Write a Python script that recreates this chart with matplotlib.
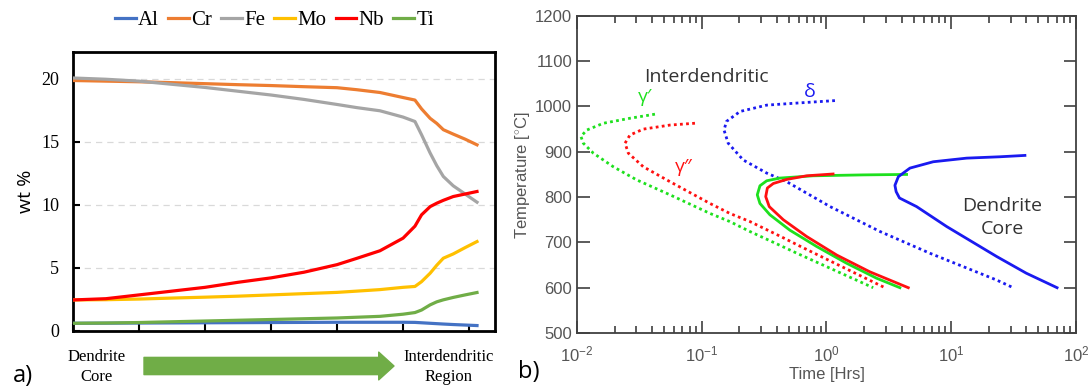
import numpy as np
import matplotlib.pyplot as plt
from matplotlib.ticker import LogLocator, NullFormatter

plt.rcParams["mathtext.fontset"] = "custom"
plt.rcParams["mathtext.rm"] = "Liberation Sans"
plt.rcParams["mathtext.it"] = "Liberation Sans:italic"

# ---- panel a) composition profile, dendrite core -> interdendritic ----
position = [0, 5, 10, 15, 20, 25, 30, 35, 40, 43, 46.5, 50, 51.8, 52.8, 54.1, 55.1, 56.1, 57.6, 59.4, 61.2]
elements = ["Al", "Cr", "Fe", "Mo", "Nb", "Ti"]
al = [0.60, 0.61, 0.62, 0.63, 0.64, 0.65, 0.66, 0.67, 0.68, 0.68, 0.68, 0.68, 0.67, 0.64, 0.60, 0.57, 0.54, 0.50, 0.46, 0.42]
cr = [19.85, 19.8, 19.75, 19.68, 19.6, 19.52, 19.45, 19.36, 19.28, 19.12, 18.9, 18.5, 18.3, 17.6, 16.85, 16.45, 15.95, 15.6, 15.2, 14.75]
fe = [20.05, 19.95, 19.8, 19.55, 19.3, 19.0, 18.7, 18.35, 17.95, 17.7, 17.45, 16.95, 16.6, 15.55, 14.1, 13.1, 12.24, 11.5, 10.85, 10.2]
mo = [2.45, 2.47, 2.52, 2.6, 2.67, 2.75, 2.85, 2.95, 3.05, 3.15, 3.27, 3.45, 3.52, 3.9, 4.57, 5.2, 5.76, 6.1, 6.6, 7.08]
nb = [2.45, 2.55, 2.85, 3.15, 3.45, 3.85, 4.2, 4.65, 5.25, 5.75, 6.35, 7.35, 8.3, 9.2, 9.85, 10.12, 10.35, 10.65, 10.85, 11.05]
ti = [0.60, 0.62, 0.66, 0.72, 0.78, 0.84, 0.90, 0.96, 1.02, 1.08, 1.15, 1.32, 1.45, 1.65, 2.06, 2.3, 2.46, 2.65, 2.85, 3.04]
series = [al, cr, fe, mo, nb, ti]
colors_a = ["#4472C4", "#ED7D31", "#A5A5A5", "#FFC000", "#FF0000", "#70AD47"]

# ---- panel b) TTT curves (time in hours, temperature in C) ----
gp_id_t = [0.0422, 0.0266, 0.0163, 0.012, 0.01076, 0.01124, 0.01352, 0.01955, 0.0301, 0.0557,
           0.1164, 0.168, 0.2437, 0.42, 0.58, 2.37]
gp_id_T = [983, 974, 963, 948, 934, 919, 897, 867, 838, 805, 764, 746, 724, 694, 676, 600]
gpp_id_t = [0.0883, 0.0557, 0.034, 0.0266, 0.0243, 0.0258, 0.034, 0.0557, 0.1164, 0.168, 0.2437,
            0.43, 0.62, 2.94]
gpp_id_T = [963, 959, 950, 937, 919, 897, 867, 834, 786, 764, 746, 713, 691, 600]
delta_t = [1.17, 0.614, 0.332, 0.203, 0.158, 0.151, 0.163, 0.215, 0.332, 0.48, 1.07,
           2.69, 6.76, 23.1, 31.4]
delta_T = [1013, 1008, 1003, 989, 967, 948, 919, 882, 853, 834, 779, 724, 676, 617, 600]
gpp_dc_t = [1.13, 0.694, 0.48, 0.375, 0.336, 0.326, 0.348, 0.451, 0.694, 1.21, 2.23, 4.53]
gpp_dc_T = [851, 847, 839, 830, 820, 801, 779, 750, 713, 672, 635, 600]
gp_dc_t = [4.39, 1.97, 0.783, 0.424, 0.332, 0.293, 0.279, 0.293, 0.352, 0.509, 0.834, 1.45, 2.52, 3.88]
gp_dc_T = [850, 849, 847, 842, 836, 825, 805, 786, 761, 727, 691, 654, 621, 600]
delta_dc_t = [39.0, 24.6, 13.3, 7.18, 4.67, 3.77, 3.54, 3.62, 3.85, 5.28, 9.2, 23.1, 40.0, 70.6]
delta_dc_T = [892, 889, 886, 878, 864, 845, 826, 812, 798, 779, 735, 669, 632, 600]

GREEN = "#1EE01E"
RED = "#FF1010"
BLUE = "#1A1AF0"
DOTS = (0, (1, 1.2))

fig = plt.figure(figsize=(10.89, 3.92), dpi=100)

# panel a
ax1 = fig.add_axes([0.067, 0.156, 0.388, 0.711])
for name, vals, c in zip(elements, series, colors_a):
    ax1.plot(position, vals, color=c, lw=2.3, label=name, solid_joinstyle="round", zorder=3)
ax1.set_xlim(0, 64)
ax1.set_ylim(0, 22.1)
ax1.set_yticks([0, 5, 10, 15, 20])
ax1.set_xticks(np.arange(0, 61, 10))
ax1.set_xticklabels([])
for y in [5, 10, 15, 20]:
    ax1.axhline(y, color="#D9D9D9", lw=0.9, ls=(0, (5, 4)), zorder=1)
ax1.tick_params(direction="in", length=5, width=1.5)
ax1.tick_params(axis="y", labelsize=13, pad=10)
for lab in ax1.get_yticklabels():
    lab.set_family("Liberation Serif")
for sp in ax1.spines.values():
    sp.set_linewidth(2)
ax1.set_ylabel("wt %", fontsize=14, family="Open Sans", labelpad=4)
fig.legend(*ax1.get_legend_handles_labels(), loc="center", bbox_to_anchor=(0.252, 0.948),
           ncol=6, frameon=False, handlelength=1.0, handletextpad=0.1, columnspacing=0.45,
           prop={"family": "Liberation Serif", "size": 15})

fig.text(97 / 1089, 25 / 392, "Dendrite\nCore", ha="center", va="center",
         family="Liberation Serif", fontsize=12, linespacing=1.3)
fig.text(449 / 1089, 25 / 392, "Interdendritic\nRegion", ha="center", va="center",
         family="Liberation Serif", fontsize=12, linespacing=1.3)
fig.text(0.012, 0.04, "a)", ha="left", va="center", family="Open Sans", fontsize=17)
ax1.annotate("", xy=(394, 26), xytext=(144, 26), xycoords="figure pixels",
             textcoords="figure pixels",
             arrowprops=dict(arrowstyle="simple,head_width=1.0,head_length=0.55,tail_width=0.62",
                             fc="#70AD47", ec="#70AD47", mutation_scale=20,
                             shrinkA=0, shrinkB=0))

# panel b
ax2 = fig.add_axes([0.5298, 0.1505, 0.4582, 0.809])
ax2.plot(gp_id_t, gp_id_T, color=GREEN, lw=2, ls=DOTS)
ax2.plot(gpp_id_t, gpp_id_T, color=RED, lw=2, ls=DOTS)
ax2.plot(delta_t, delta_T, color=BLUE, lw=2, ls=DOTS)
ax2.plot(gp_dc_t, gp_dc_T, color=GREEN, lw=2)
ax2.plot(gpp_dc_t, gpp_dc_T, color=RED, lw=2)
ax2.plot(delta_dc_t, delta_dc_T, color=BLUE, lw=2)
ax2.set_xscale("log")
ax2.set_xlim(1e-2, 1e2)
ax2.set_ylim(500, 1200)
ax2.set_yticks(np.arange(500, 1201, 100))
ax2.xaxis.set_major_locator(LogLocator(base=10, numticks=10))
ax2.xaxis.set_minor_locator(LogLocator(base=10, subs=np.arange(2, 10), numticks=20))
ax2.xaxis.set_minor_formatter(NullFormatter())
ax2.tick_params(which="both", direction="in", top=True, right=True, colors="#404040",
                labelcolor="#555555", width=1.2)
ax2.tick_params(which="major", length=9, labelsize=12)
ax2.tick_params(which="minor", length=5)
ax2.tick_params(axis="x", pad=8)
for lab in ax2.get_yticklabels() + ax2.get_xticklabels():
    lab.set_family("Liberation Sans")
for sp in ax2.spines.values():
    sp.set_linewidth(1.3)
    sp.set_color("#404040")
ax2.set_xlabel("Time [Hrs]", fontsize=12, family="Liberation Sans", color="#555555", labelpad=2)
ax2.set_ylabel("Temperature [$^{\\circ}$C]", fontsize=12, family="Liberation Sans",
               color="#555555", labelpad=2)

ax2.text(0.11, 1065, "Interdendritic", ha="center", va="center", family="Open Sans",
         fontsize=14, color="#333333")
ax2.text(0.035, 1020, "γ′", ha="center", va="center", family="Open Sans", fontsize=14, color=GREEN)
ax2.text(0.74, 1033, "δ", ha="center", va="center", family="Open Sans", fontsize=14, color=BLUE)
ax2.text(0.072, 866, "γ″", ha="center", va="center", family="Open Sans", fontsize=14, color=RED)
ax2.text(25.5, 755, "Dendrite\nCore", ha="center", va="center", family="Open Sans",
         fontsize=14, color="#333333", linespacing=1.3)
fig.text(0.476, 0.05, "b)", ha="left", va="center", family="Open Sans", fontsize=17)

fig.savefig("out.png", dpi=100)
